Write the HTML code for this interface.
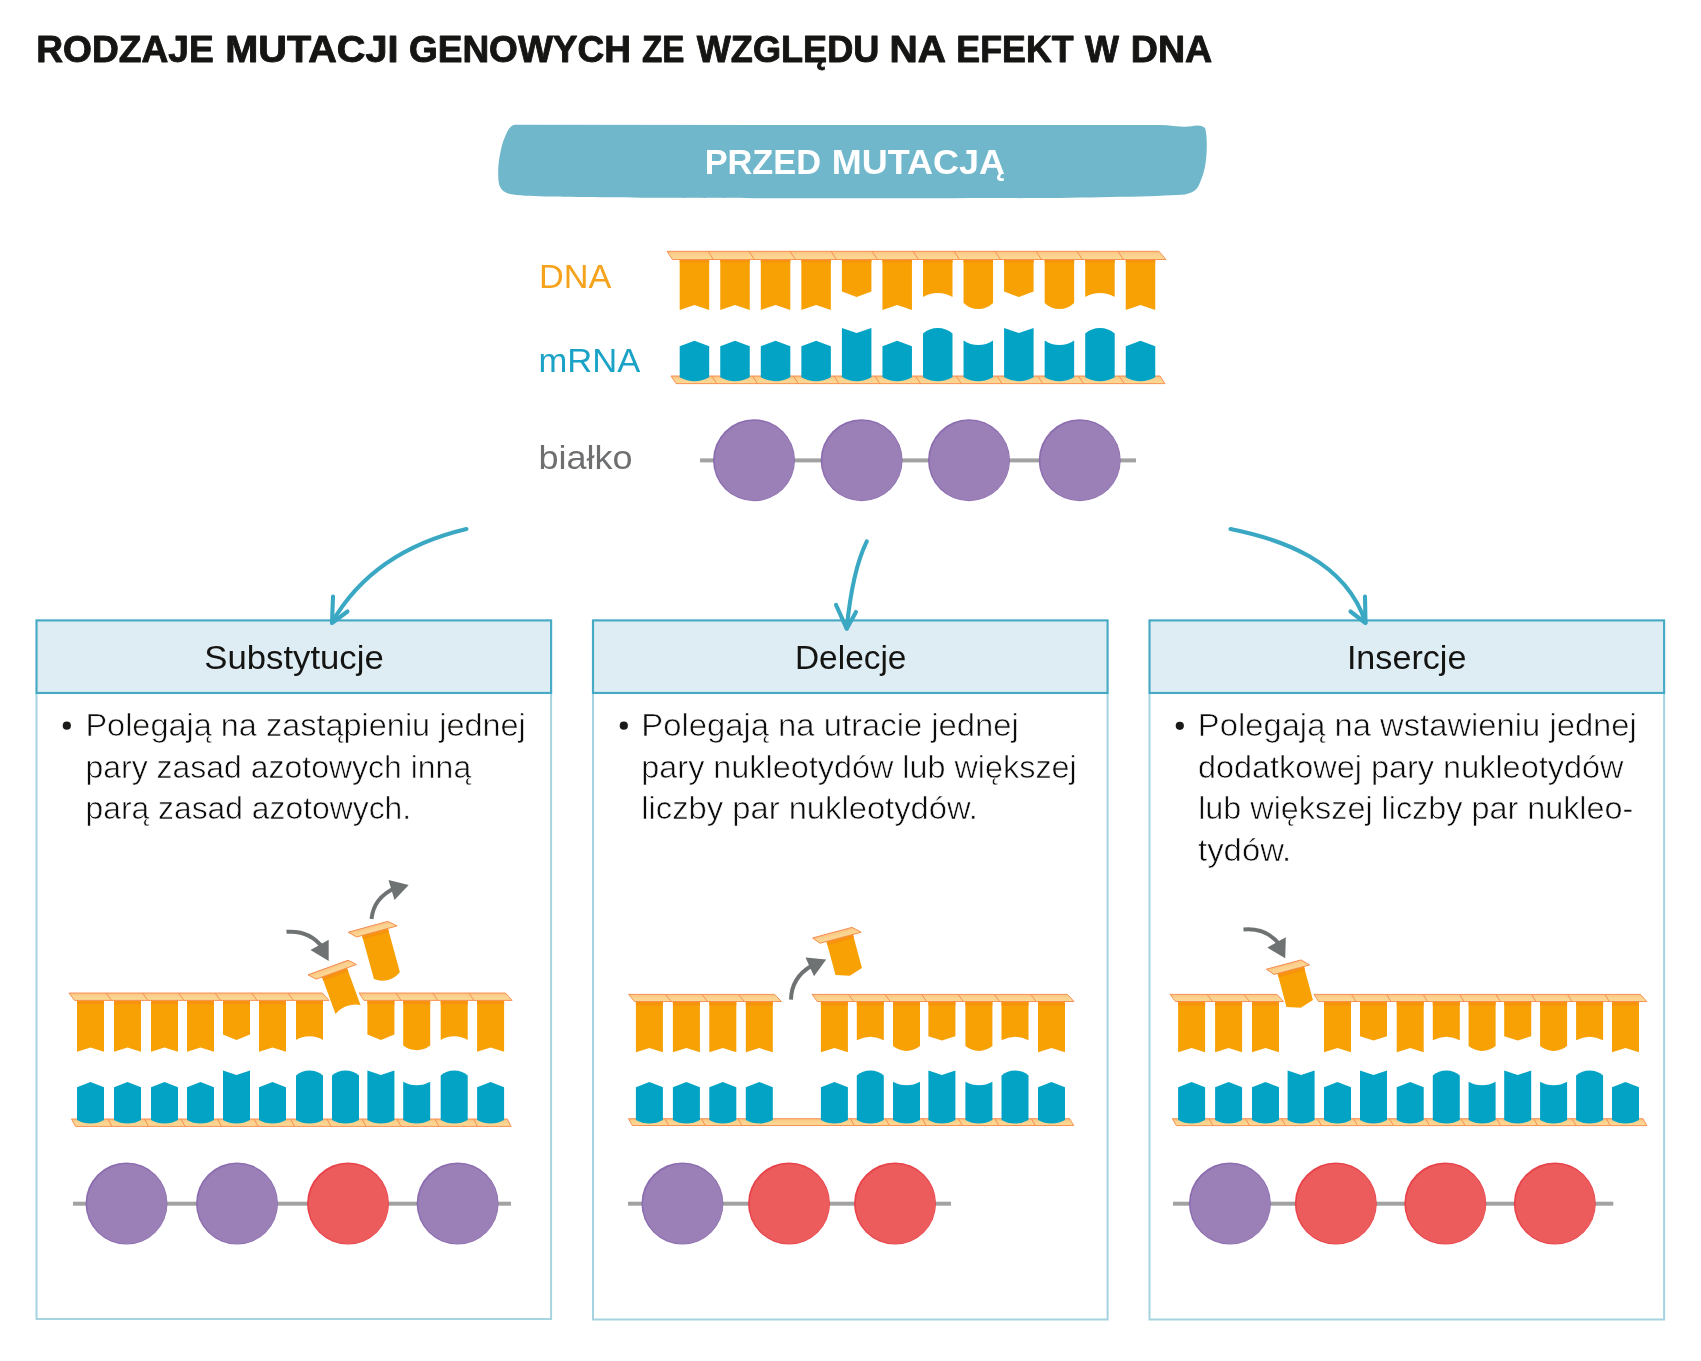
<!DOCTYPE html>
<html lang="pl">
<head>
<meta charset="utf-8">
<title>Rodzaje mutacji genowych</title>
<style>
html,body{margin:0;padding:0;background:#fff;}
body{width:1701px;height:1361px;position:relative;overflow:hidden;font-family:"Liberation Sans",sans-serif;}
svg{position:absolute;left:0;top:0;will-change:transform;-webkit-font-smoothing:antialiased;}
text{font-family:"Liberation Sans",sans-serif;white-space:pre;}
</style>
</head>
<body>


<svg width="1701" height="1361" viewBox="0 0 1701 1361">
<defs><linearGradient id="bg" x1="0" y1="0" x2="0" y2="1"><stop offset="0" stop-color="#FBC280"/><stop offset="0.45" stop-color="#FBD28F"/><stop offset="1" stop-color="#FBD994"/></linearGradient></defs>
<path d="M515,124.8L1160,125C1170,125 1178,126.8 1185,126.8C1190,126.8 1194,125.3 1198,125.5C1202,125.700 1205,127 1205.500,129.500C1207,137 1207.300,147 1206,160C1205,170 1202,178 1199,185C1197,189 1195,192 1185,194.500C1170,196 1100,197.500 1050,198C950,198.500 700,198.300 655,197.800C620,197.500 560,197 545,196.500C530,196 518,195.500 510,194C503,192.500 500,188 499,184C497.500,176 498,162 500.500,152C502,145 503,141 505,137C507,132 510,125 515,124.800Z" fill="#71B7CB"/>
<path d="M36.5,693V1319.100H551.1V693" fill="none" stroke="#A6D3E0" stroke-width="2"/><rect x="36.5" y="620.400" width="514.6" height="72.550" fill="#DEEDF3" stroke="#47AAC4" stroke-width="2.150"/><path d="M593.0,693V1319.500H1107.6V693" fill="none" stroke="#A6D3E0" stroke-width="2"/><rect x="593.0" y="620.400" width="514.6" height="72.550" fill="#DEEDF3" stroke="#47AAC4" stroke-width="2.150"/><path d="M1149.5,693V1319.500H1664.1V693" fill="none" stroke="#A6D3E0" stroke-width="2"/><rect x="1149.5" y="620.400" width="514.6" height="72.550" fill="#DEEDF3" stroke="#47AAC4" stroke-width="2.150"/>
<path d="M679.7,259.5H709.2V310L694.45,305L679.7,310Z" fill="#F8A105"/><rect x="679.7" y="259.5" width="29.5" height="3" fill="#F7930D"/>
<path d="M720.25,259.5H749.75V310L735,305L720.25,310Z" fill="#F8A105"/><rect x="720.25" y="259.5" width="29.5" height="3" fill="#F7930D"/>
<path d="M760.8,259.5H790.3V310L775.55,305L760.8,310Z" fill="#F8A105"/><rect x="760.8" y="259.5" width="29.5" height="3" fill="#F7930D"/>
<path d="M801.35,259.5H830.85V310L816.1,305L801.35,310Z" fill="#F8A105"/><rect x="801.35" y="259.5" width="29.5" height="3" fill="#F7930D"/>
<path d="M841.9,259.5H871.4V291.5L856.65,297L841.9,291.5Z" fill="#F8A105"/><rect x="841.9" y="259.5" width="29.5" height="3" fill="#F7930D"/>
<path d="M882.45,259.5H911.95V310L897.2,305L882.45,310Z" fill="#F8A105"/><rect x="882.45" y="259.5" width="29.5" height="3" fill="#F7930D"/>
<path d="M923,259.5H952.5V297A29.2,29.2 0 0 0 923,297Z" fill="#F8A105"/><rect x="923" y="259.5" width="29.5" height="3" fill="#F7930D"/>
<path d="M963.55,259.5H993.05V303A21.13,21.13 0 0 1 963.55,303Z" fill="#F8A105"/><rect x="963.55" y="259.5" width="29.5" height="3" fill="#F7930D"/>
<path d="M1004.1,259.5H1033.6V291.5L1018.85,297L1004.1,291.5Z" fill="#F8A105"/><rect x="1004.1" y="259.5" width="29.5" height="3" fill="#F7930D"/>
<path d="M1044.65,259.5H1074.15V303A21.13,21.13 0 0 1 1044.65,303Z" fill="#F8A105"/><rect x="1044.65" y="259.5" width="29.5" height="3" fill="#F7930D"/>
<path d="M1085.2,259.5H1114.7V297A29.2,29.2 0 0 0 1085.2,297Z" fill="#F8A105"/><rect x="1085.2" y="259.5" width="29.5" height="3" fill="#F7930D"/>
<path d="M1125.75,259.5H1155.25V310L1140.5,305L1125.75,310Z" fill="#F8A105"/><rect x="1125.75" y="259.5" width="29.5" height="3" fill="#F7930D"/>
<path d="M667,251.3H1159L1166,259.5H672.5Z" fill="url(#bg)" stroke="#F6894A" stroke-width="0.9" stroke-linejoin="round"/><path d="M708,251.3L713.5,259.5M749,251.3L754.5,259.5M790,251.3L795.5,259.5M831,251.3L836.5,259.5M872,251.3L877.5,259.5M913,251.3L918.5,259.5M954,251.3L959.5,259.5M995,251.3L1000.5,259.5M1036,251.3L1041.5,259.5M1077,251.3L1082.5,259.5M1118,251.3L1123.5,259.5" stroke="#F6894A" stroke-width="0.9" fill="none"/>
<path d="M671,376H1160L1165,383.6H676Z" fill="url(#bg)" stroke="#F6894A" stroke-width="0.9" stroke-linejoin="round"/><path d="M711.75,376L716.75,383.6M752.5,376L757.5,383.6M793.25,376L798.25,383.6M834,376L839,383.6M874.75,376L879.75,383.6M915.5,376L920.5,383.6M956.25,376L961.25,383.6M997,376L1002,383.6M1037.75,376L1042.75,383.6M1078.5,376L1083.5,383.6M1119.25,376L1124.25,383.6" stroke="#F6894A" stroke-width="0.9" fill="none"/>
<path d="M679.7,346.3L694.45,340.7L709.2,346.3V377.3A31.25,31.25 0 0 1 679.7,377.3Z" fill="#02A3C5"/>
<path d="M720.25,346.3L735,340.7L749.75,346.3V377.3A31.25,31.25 0 0 1 720.25,377.3Z" fill="#02A3C5"/>
<path d="M760.8,346.3L775.55,340.7L790.3,346.3V377.3A31.25,31.25 0 0 1 760.8,377.3Z" fill="#02A3C5"/>
<path d="M801.35,346.3L816.1,340.7L830.85,346.3V377.3A31.25,31.25 0 0 1 801.35,377.3Z" fill="#02A3C5"/>
<path d="M841.9,328L856.65,333L871.4,328V377.3A31.25,31.25 0 0 1 841.9,377.3Z" fill="#02A3C5"/>
<path d="M882.45,346.3L897.2,340.7L911.95,346.3V377.3A31.25,31.25 0 0 1 882.45,377.3Z" fill="#02A3C5"/>
<path d="M923,333.5A22.53,22.53 0 0 1 952.5,333.5V377.3A31.25,31.25 0 0 1 923,377.3Z" fill="#02A3C5"/>
<path d="M963.55,340.5A26.42,26.42 0 0 0 993.05,340.5V377.3A31.25,31.25 0 0 1 963.55,377.3Z" fill="#02A3C5"/>
<path d="M1004.1,328L1018.85,333L1033.6,328V377.3A31.25,31.25 0 0 1 1004.1,377.3Z" fill="#02A3C5"/>
<path d="M1044.65,340.5A26.42,26.42 0 0 0 1074.15,340.5V377.3A31.25,31.25 0 0 1 1044.65,377.3Z" fill="#02A3C5"/>
<path d="M1085.2,333.5A22.53,22.53 0 0 1 1114.7,333.5V377.3A31.25,31.25 0 0 1 1085.2,377.3Z" fill="#02A3C5"/>
<path d="M1125.75,346.3L1140.5,340.7L1155.25,346.3V377.3A31.25,31.25 0 0 1 1125.75,377.3Z" fill="#02A3C5"/>
<rect x="700" y="458.4" width="436" height="4" fill="#A2A2A2"/><circle cx="754" cy="460.2" r="41" fill="#8C6DB0"/><circle cx="754.6" cy="460.7" r="39.9" fill="#9B80B7"/><circle cx="861.6" cy="460.2" r="41" fill="#8C6DB0"/><circle cx="862.2" cy="460.7" r="39.9" fill="#9B80B7"/><circle cx="969" cy="460.2" r="41" fill="#8C6DB0"/><circle cx="969.6" cy="460.7" r="39.9" fill="#9B80B7"/><circle cx="1079.7" cy="460.2" r="41" fill="#8C6DB0"/><circle cx="1080.3" cy="460.7" r="39.9" fill="#9B80B7"/>
<path d="M77,1000.4H104V1051.7L90.5,1047.4L77,1051.7Z" fill="#F8A105"/><rect x="77" y="1000.4" width="27" height="4" fill="#F7930D"/>
<path d="M114,1000.4H141V1051.7L127.5,1047.4L114,1051.7Z" fill="#F8A105"/><rect x="114" y="1000.4" width="27" height="4" fill="#F7930D"/>
<path d="M151,1000.4H178V1051.7L164.5,1047.4L151,1051.7Z" fill="#F8A105"/><rect x="151" y="1000.4" width="27" height="4" fill="#F7930D"/>
<path d="M187,1000.4H214V1051.7L200.5,1047.4L187,1051.7Z" fill="#F8A105"/><rect x="187" y="1000.4" width="27" height="4" fill="#F7930D"/>
<path d="M223,1000.4H250V1034.6L236.5,1040L223,1034.6Z" fill="#F8A105"/><rect x="223" y="1000.4" width="27" height="4" fill="#F7930D"/>
<path d="M259,1000.4H286V1051.7L272.5,1047.4L259,1051.7Z" fill="#F8A105"/><rect x="259" y="1000.4" width="27" height="4" fill="#F7930D"/>
<path d="M296,1000.4H323V1039.9A26.48,26.48 0 0 0 296,1039.9Z" fill="#F8A105"/><rect x="296" y="1000.4" width="27" height="4" fill="#F7930D"/>
<path d="M367.4,1000.4H394.4V1034.6L380.9,1040L367.4,1034.6Z" fill="#F8A105"/><rect x="367.4" y="1000.4" width="27" height="4" fill="#F7930D"/>
<path d="M403.2,1000.4H430.2V1045.6A22.11,22.11 0 0 1 403.2,1045.6Z" fill="#F8A105"/><rect x="403.2" y="1000.4" width="27" height="4" fill="#F7930D"/>
<path d="M440.7,1000.4H467.7V1039.9A26.48,26.48 0 0 0 440.7,1039.9Z" fill="#F8A105"/><rect x="440.7" y="1000.4" width="27" height="4" fill="#F7930D"/>
<path d="M477.1,1000.4H504.1V1051.7L490.6,1047.4L477.1,1051.7Z" fill="#F8A105"/><rect x="477.1" y="1000.4" width="27" height="4" fill="#F7930D"/>
<path d="M69,993H322.5L329,1000.4H74.5Z" fill="url(#bg)" stroke="#F6894A" stroke-width="0.9" stroke-linejoin="round"/><path d="M106,993L111.5,1000.4M142.5,993L148,1000.4M178.5,993L184,1000.4M215,993L220.5,1000.4M251.5,993L257,1000.4M288,993L293.5,1000.4" stroke="#F6894A" stroke-width="0.9" fill="none"/>
<path d="M359,993H505.5L512.1,1000.4H364Z" fill="url(#bg)" stroke="#F6894A" stroke-width="0.9" stroke-linejoin="round"/><path d="M396,993L401,1000.4M432.7,993L437.7,1000.4M468.9,993L473.9,1000.4" stroke="#F6894A" stroke-width="0.9" fill="none"/>
<path d="M71.5,1119H507.3L511.1,1126.4H75.5Z" fill="url(#bg)" stroke="#F6894A" stroke-width="0.9" stroke-linejoin="round"/><path d="M108,1119L112,1126.4M144.5,1119L148.5,1126.4M181,1119L185,1126.4M217.5,1119L221.5,1126.4M254,1119L258,1126.4M290.5,1119L294.5,1126.4M327,1119L331,1126.4M362,1119L366,1126.4M397,1119L401,1126.4M434.9,1119L438.9,1126.4M473.5,1119L477.5,1126.4" stroke="#F6894A" stroke-width="0.9" fill="none"/>
<path d="M77,1087.3L90.5,1081.9L104,1087.3V1120A27.11,27.11 0 0 1 77,1120Z" fill="#02A3C5"/>
<path d="M114,1087.3L127.5,1081.9L141,1087.3V1120A27.11,27.11 0 0 1 114,1120Z" fill="#02A3C5"/>
<path d="M151,1087.3L164.5,1081.9L178,1087.3V1120A27.11,27.11 0 0 1 151,1120Z" fill="#02A3C5"/>
<path d="M187,1087.3L200.5,1081.9L214,1087.3V1120A27.11,27.11 0 0 1 187,1120Z" fill="#02A3C5"/>
<path d="M223,1070.6L236.5,1075L250,1070.6V1120A27.11,27.11 0 0 1 223,1120Z" fill="#02A3C5"/>
<path d="M259,1087.3L272.5,1081.9L286,1087.3V1120A27.11,27.11 0 0 1 259,1120Z" fill="#02A3C5"/>
<path d="M296,1075.4A21.05,21.05 0 0 1 323,1075.4V1120A27.11,27.11 0 0 1 296,1120Z" fill="#02A3C5"/>
<path d="M332,1075.4A21.05,21.05 0 0 1 359,1075.4V1120A27.11,27.11 0 0 1 332,1120Z" fill="#02A3C5"/>
<path d="M367.4,1070.6L380.9,1075L394.4,1070.6V1120A27.11,27.11 0 0 1 367.4,1120Z" fill="#02A3C5"/>
<path d="M403.2,1081.7A27.11,27.11 0 0 0 430.2,1081.7V1120A27.11,27.11 0 0 1 403.2,1120Z" fill="#02A3C5"/>
<path d="M440.7,1075.4A21.05,21.05 0 0 1 467.7,1075.4V1120A27.11,27.11 0 0 1 440.7,1120Z" fill="#02A3C5"/>
<path d="M477.1,1087.3L490.6,1081.9L504.1,1087.3V1120A27.11,27.11 0 0 1 477.1,1120Z" fill="#02A3C5"/>
<g transform="translate(322,977) rotate(-20)"><path d="M0,0H26.6V39.5A25.75,25.75 0 0 0 0,39.5Z" fill="#F8A105"/><rect x="0" y="0" width="26.6" height="4" fill="#F7930D"/><path d="M-12.4,-6.8H30.2L36.6,0H-6.2Z" fill="url(#bg)" stroke="#F6894A" stroke-width="0.9" stroke-linejoin="round"/></g>
<g transform="translate(362,935.5) rotate(-15.3)"><path d="M0,0H26.9V45.2A21.96,21.96 0 0 1 0,45.2Z" fill="#F8A105"/><rect x="0" y="0" width="26.9" height="4" fill="#F7930D"/><path d="M-12.4,-6.8H28.6L36.4,0H-5.6Z" fill="url(#bg)" stroke="#F6894A" stroke-width="0.9" stroke-linejoin="round"/></g>
<rect x="73" y="1201.7" width="438" height="4" fill="#A2A2A2"/><circle cx="126.5" cy="1203.5" r="41" fill="#8C6DB0"/><circle cx="127.1" cy="1204" r="39.9" fill="#9B80B7"/><circle cx="237" cy="1203.5" r="41" fill="#8C6DB0"/><circle cx="237.6" cy="1204" r="39.9" fill="#9B80B7"/><circle cx="348" cy="1203.5" r="41" fill="#E8434B"/><circle cx="348.6" cy="1204" r="39.9" fill="#EC5C5C"/><circle cx="457.6" cy="1203.5" r="41" fill="#8C6DB0"/><circle cx="458.2" cy="1204" r="39.9" fill="#9B80B7"/>
<path d="M635.9,1001.5H662.9V1052.3L649.4,1048.1L635.9,1052.3Z" fill="#F8A105"/><rect x="635.9" y="1001.5" width="27" height="4" fill="#F7930D"/>
<path d="M672.9,1001.5H699.9V1052.3L686.4,1048.1L672.9,1052.3Z" fill="#F8A105"/><rect x="672.9" y="1001.5" width="27" height="4" fill="#F7930D"/>
<path d="M709.3,1001.5H736.3V1052.3L722.8,1048.1L709.3,1052.3Z" fill="#F8A105"/><rect x="709.3" y="1001.5" width="27" height="4" fill="#F7930D"/>
<path d="M745.8,1001.5H772.8V1052.3L759.3,1048.1L745.8,1052.3Z" fill="#F8A105"/><rect x="745.8" y="1001.5" width="27" height="4" fill="#F7930D"/>
<path d="M820.9,1001.5H847.9V1052.3L834.4,1048.1L820.9,1052.3Z" fill="#F8A105"/><rect x="820.9" y="1001.5" width="27" height="4" fill="#F7930D"/>
<path d="M856.8,1001.5H883.8V1040.3A29.26,29.26 0 0 0 856.8,1040.3Z" fill="#F8A105"/><rect x="856.8" y="1001.5" width="27" height="4" fill="#F7930D"/>
<path d="M893,1001.5H920V1046.1A21.38,21.38 0 0 1 893,1046.1Z" fill="#F8A105"/><rect x="893" y="1001.5" width="27" height="4" fill="#F7930D"/>
<path d="M928.4,1001.5H955.4V1036.2L941.9,1040.6L928.4,1036.2Z" fill="#F8A105"/><rect x="928.4" y="1001.5" width="27" height="4" fill="#F7930D"/>
<path d="M965.4,1001.5H992.4V1046.1A21.38,21.38 0 0 1 965.4,1046.1Z" fill="#F8A105"/><rect x="965.4" y="1001.5" width="27" height="4" fill="#F7930D"/>
<path d="M1001.5,1001.5H1028.5V1040.3A29.26,29.26 0 0 0 1001.5,1040.3Z" fill="#F8A105"/><rect x="1001.5" y="1001.5" width="27" height="4" fill="#F7930D"/>
<path d="M1038,1001.5H1065V1052.3L1051.5,1048.1L1038,1052.3Z" fill="#F8A105"/><rect x="1038" y="1001.5" width="27" height="4" fill="#F7930D"/>
<path d="M628.5,994.4H774.6L781.4,1001.5H634.5Z" fill="url(#bg)" stroke="#F6894A" stroke-width="0.9" stroke-linejoin="round"/><path d="M665.3,994.4L671.3,1001.5M701.8,994.4L707.8,1001.5M738.3,994.4L744.3,1001.5" stroke="#F6894A" stroke-width="0.9" fill="none"/>
<path d="M812,994.4H1067.4L1074,1001.5H817.3Z" fill="url(#bg)" stroke="#F6894A" stroke-width="0.9" stroke-linejoin="round"/><path d="M848.5,994.4L853.8,1001.5M885,994.4L890.3,1001.5M921.5,994.4L926.8,1001.5M958,994.4L963.3,1001.5M994.3,994.4L999.6,1001.5M1030.8,994.4L1036.1,1001.5" stroke="#F6894A" stroke-width="0.9" fill="none"/>
<path d="M628.5,1118.7H1069.7L1073.7,1125.5H632.3Z" fill="url(#bg)" stroke="#F6894A" stroke-width="0.9" stroke-linejoin="round"/><path d="M665,1118.7L668.8,1125.5M701.5,1118.7L705.3,1125.5M738,1118.7L741.8,1125.5M850.4,1118.7L854.2,1125.5M885.6,1118.7L889.4,1125.5M922.3,1118.7L926.1,1125.5M958.5,1118.7L962.3,1125.5M995,1118.7L998.8,1125.5M1031.5,1118.7L1035.3,1125.5" stroke="#F6894A" stroke-width="0.9" fill="none"/>
<path d="M635.9,1087.3L649.4,1081.9L662.9,1087.3V1120A27.11,27.11 0 0 1 635.9,1120Z" fill="#02A3C5"/>
<path d="M672.9,1087.3L686.4,1081.9L699.9,1087.3V1120A27.11,27.11 0 0 1 672.9,1120Z" fill="#02A3C5"/>
<path d="M709.3,1087.3L722.8,1081.9L736.3,1087.3V1120A27.11,27.11 0 0 1 709.3,1120Z" fill="#02A3C5"/>
<path d="M745.8,1087.3L759.3,1081.9L772.8,1087.3V1120A27.11,27.11 0 0 1 745.8,1120Z" fill="#02A3C5"/>
<path d="M820.9,1087.3L834.4,1081.9L847.9,1087.3V1120A27.11,27.11 0 0 1 820.9,1120Z" fill="#02A3C5"/>
<path d="M856.8,1075.4A21.05,21.05 0 0 1 883.8,1075.4V1120A27.11,27.11 0 0 1 856.8,1120Z" fill="#02A3C5"/>
<path d="M893,1081.7A27.11,27.11 0 0 0 920,1081.7V1120A27.11,27.11 0 0 1 893,1120Z" fill="#02A3C5"/>
<path d="M928.4,1070.6L941.9,1075L955.4,1070.6V1120A27.11,27.11 0 0 1 928.4,1120Z" fill="#02A3C5"/>
<path d="M965.4,1081.7A27.11,27.11 0 0 0 992.4,1081.7V1120A27.11,27.11 0 0 1 965.4,1120Z" fill="#02A3C5"/>
<path d="M1001.5,1075.4A21.05,21.05 0 0 1 1028.5,1075.4V1120A27.11,27.11 0 0 1 1001.5,1120Z" fill="#02A3C5"/>
<path d="M1038,1087.3L1051.5,1081.9L1065,1087.3V1120A27.11,27.11 0 0 1 1038,1120Z" fill="#02A3C5"/>
<g transform="translate(826.5,941.5) rotate(-15)"><path d="M0,0H27.4V34.7L13.7,39.1L0,34.7Z" fill="#F8A105"/><rect x="0" y="0" width="27.4" height="4" fill="#F7930D"/><path d="M-12.6,-7H28.4L35.9,0H-6.7Z" fill="url(#bg)" stroke="#F6894A" stroke-width="0.9" stroke-linejoin="round"/></g>
<rect x="628" y="1201.7" width="323" height="4" fill="#A2A2A2"/><circle cx="682.4" cy="1203.5" r="41" fill="#8C6DB0"/><circle cx="683" cy="1204" r="39.9" fill="#9B80B7"/><circle cx="789" cy="1203.5" r="41" fill="#E8434B"/><circle cx="789.6" cy="1204" r="39.9" fill="#EC5C5C"/><circle cx="895" cy="1203.5" r="41" fill="#E8434B"/><circle cx="895.6" cy="1204" r="39.9" fill="#EC5C5C"/>
<path d="M1178.1,1001.5H1205.1V1052.3L1191.6,1048.1L1178.1,1052.3Z" fill="#F8A105"/><rect x="1178.1" y="1001.5" width="27" height="4" fill="#F7930D"/>
<path d="M1215.1,1001.5H1242.1V1052.3L1228.6,1048.1L1215.1,1052.3Z" fill="#F8A105"/><rect x="1215.1" y="1001.5" width="27" height="4" fill="#F7930D"/>
<path d="M1252,1001.5H1279V1052.3L1265.5,1048.1L1252,1052.3Z" fill="#F8A105"/><rect x="1252" y="1001.5" width="27" height="4" fill="#F7930D"/>
<path d="M1324,1001.5H1351V1052.3L1337.5,1048.1L1324,1052.3Z" fill="#F8A105"/><rect x="1324" y="1001.5" width="27" height="4" fill="#F7930D"/>
<path d="M1360,1001.5H1387V1036.2L1373.5,1040.6L1360,1036.2Z" fill="#F8A105"/><rect x="1360" y="1001.5" width="27" height="4" fill="#F7930D"/>
<path d="M1396.7,1001.5H1423.7V1052.3L1410.2,1048.1L1396.7,1052.3Z" fill="#F8A105"/><rect x="1396.7" y="1001.5" width="27" height="4" fill="#F7930D"/>
<path d="M1432.8,1001.5H1459.8V1040.3A29.26,29.26 0 0 0 1432.8,1040.3Z" fill="#F8A105"/><rect x="1432.8" y="1001.5" width="27" height="4" fill="#F7930D"/>
<path d="M1468.6,1001.5H1495.6V1046.1A21.38,21.38 0 0 1 1468.6,1046.1Z" fill="#F8A105"/><rect x="1468.6" y="1001.5" width="27" height="4" fill="#F7930D"/>
<path d="M1504.2,1001.5H1531.2V1036.2L1517.7,1040.6L1504.2,1036.2Z" fill="#F8A105"/><rect x="1504.2" y="1001.5" width="27" height="4" fill="#F7930D"/>
<path d="M1540.1,1001.5H1567.1V1046.1A21.38,21.38 0 0 1 1540.1,1046.1Z" fill="#F8A105"/><rect x="1540.1" y="1001.5" width="27" height="4" fill="#F7930D"/>
<path d="M1576.1,1001.5H1603.1V1040.3A29.26,29.26 0 0 0 1576.1,1040.3Z" fill="#F8A105"/><rect x="1576.1" y="1001.5" width="27" height="4" fill="#F7930D"/>
<path d="M1612,1001.5H1639V1052.3L1625.5,1048.1L1612,1052.3Z" fill="#F8A105"/><rect x="1612" y="1001.5" width="27" height="4" fill="#F7930D"/>
<path d="M1170,994.4H1277L1283.5,1001.5H1175.5Z" fill="url(#bg)" stroke="#F6894A" stroke-width="0.9" stroke-linejoin="round"/><path d="M1207,994.4L1212.5,1001.5M1244,994.4L1249.5,1001.5" stroke="#F6894A" stroke-width="0.9" fill="none"/>
<path d="M1314,994.4H1640.4L1646.8,1001.5H1318.5Z" fill="url(#bg)" stroke="#F6894A" stroke-width="0.9" stroke-linejoin="round"/><path d="M1351.5,994.4L1356,1001.5M1386.5,994.4L1391,1001.5M1423,994.4L1427.5,1001.5M1459.5,994.4L1464,1001.5M1495.9,994.4L1500.4,1001.5M1531.5,994.4L1536,1001.5M1567.5,994.4L1572,1001.5M1604.8,994.4L1609.3,1001.5" stroke="#F6894A" stroke-width="0.9" fill="none"/>
<path d="M1172.3,1118.7H1643L1646.8,1125.6H1176.3Z" fill="url(#bg)" stroke="#F6894A" stroke-width="0.9" stroke-linejoin="round"/><path d="M1209,1118.7L1213,1125.6M1245.5,1118.7L1249.5,1125.6M1281.5,1118.7L1285.5,1125.6M1317.5,1118.7L1321.5,1125.6M1353.5,1118.7L1357.5,1125.6M1389.5,1118.7L1393.5,1125.6M1425.5,1118.7L1429.5,1125.6M1461,1118.7L1465,1125.6M1496.6,1118.7L1500.6,1125.6M1533.7,1118.7L1537.7,1125.6M1572,1118.7L1576,1125.6M1606.3,1118.7L1610.3,1125.6" stroke="#F6894A" stroke-width="0.9" fill="none"/>
<path d="M1178.1,1087.3L1191.6,1081.9L1205.1,1087.3V1120A27.11,27.11 0 0 1 1178.1,1120Z" fill="#02A3C5"/>
<path d="M1215.1,1087.3L1228.6,1081.9L1242.1,1087.3V1120A27.11,27.11 0 0 1 1215.1,1120Z" fill="#02A3C5"/>
<path d="M1252,1087.3L1265.5,1081.9L1279,1087.3V1120A27.11,27.11 0 0 1 1252,1120Z" fill="#02A3C5"/>
<path d="M1287.6,1070.6L1301.1,1075L1314.6,1070.6V1120A27.11,27.11 0 0 1 1287.6,1120Z" fill="#02A3C5"/>
<path d="M1324,1087.3L1337.5,1081.9L1351,1087.3V1120A27.11,27.11 0 0 1 1324,1120Z" fill="#02A3C5"/>
<path d="M1360,1070.6L1373.5,1075L1387,1070.6V1120A27.11,27.11 0 0 1 1360,1120Z" fill="#02A3C5"/>
<path d="M1396.7,1087.3L1410.2,1081.9L1423.7,1087.3V1120A27.11,27.11 0 0 1 1396.7,1120Z" fill="#02A3C5"/>
<path d="M1432.8,1075.4A21.05,21.05 0 0 1 1459.8,1075.4V1120A27.11,27.11 0 0 1 1432.8,1120Z" fill="#02A3C5"/>
<path d="M1468.6,1081.7A27.11,27.11 0 0 0 1495.6,1081.7V1120A27.11,27.11 0 0 1 1468.6,1120Z" fill="#02A3C5"/>
<path d="M1504.2,1070.6L1517.7,1075L1531.2,1070.6V1120A27.11,27.11 0 0 1 1504.2,1120Z" fill="#02A3C5"/>
<path d="M1540.1,1081.7A27.11,27.11 0 0 0 1567.1,1081.7V1120A27.11,27.11 0 0 1 1540.1,1120Z" fill="#02A3C5"/>
<path d="M1576.1,1075.4A21.05,21.05 0 0 1 1603.1,1075.4V1120A27.11,27.11 0 0 1 1576.1,1120Z" fill="#02A3C5"/>
<path d="M1612,1087.3L1625.5,1081.9L1639,1087.3V1120A27.11,27.11 0 0 1 1612,1120Z" fill="#02A3C5"/>
<g transform="translate(1277.5,973.5) rotate(-15)"><path d="M0,0H27.4V34.7L13.7,39.1L0,34.7Z" fill="#F8A105"/><rect x="0" y="0" width="27.4" height="4" fill="#F7930D"/><path d="M-9.6,-7H26.3L33.2,0H-3.6Z" fill="url(#bg)" stroke="#F6894A" stroke-width="0.9" stroke-linejoin="round"/></g>
<rect x="1173" y="1201.7" width="440.3" height="4" fill="#A2A2A2"/><circle cx="1229.9" cy="1203.5" r="41" fill="#8C6DB0"/><circle cx="1230.5" cy="1204" r="39.9" fill="#9B80B7"/><circle cx="1335.8" cy="1203.5" r="41" fill="#E8434B"/><circle cx="1336.4" cy="1204" r="39.9" fill="#EC5C5C"/><circle cx="1445.3" cy="1203.5" r="41" fill="#E8434B"/><circle cx="1445.9" cy="1204" r="39.9" fill="#EC5C5C"/><circle cx="1554.8" cy="1203.5" r="41" fill="#E8434B"/><circle cx="1555.4" cy="1204" r="39.9" fill="#EC5C5C"/>
<path d="M286.5,931.8C303,930.5 315,937 323,948" fill="none" stroke="#6E7272" stroke-width="4"/><path d="M328.7,939.8L310.5,950L328.7,961Z" fill="#6E7272"/>
<path d="M371.5,919C373,904 382,894 395,888" fill="none" stroke="#6E7272" stroke-width="4"/><path d="M388.5,880L408.7,885L394.5,900Z" fill="#6E7272"/>
<path d="M791,999.6C791.3,985 799,973 812,965.5" fill="none" stroke="#6E7272" stroke-width="4"/><path d="M805.5,957.4L826.2,959.4L814,976.2Z" fill="#6E7272"/>
<path d="M1243.5,929.5C1259,928.2 1271,933.5 1279.5,944.5" fill="none" stroke="#6E7272" stroke-width="4"/><path d="M1285.8,937.3L1267.3,947.6L1285.2,958.2Z" fill="#6E7272"/>
<path d="M466.5,529C420,540 365,565 332,622.5" fill="none" stroke="#3AA8C3" stroke-width="4.1" stroke-linecap="round" stroke-linejoin="round"/>
<path d="M333,596.5L332,623L347.5,611.5" fill="none" stroke="#3AA8C3" stroke-width="4.1" stroke-linecap="round" stroke-linejoin="round"/>
<path d="M866.8,541.3C855,565 850,595 846.7,628.5" fill="none" stroke="#3AA8C3" stroke-width="4.1" stroke-linecap="round" stroke-linejoin="round"/>
<path d="M836,604.8L846.7,628.7L856,612" fill="none" stroke="#3AA8C3" stroke-width="4.1" stroke-linecap="round" stroke-linejoin="round"/>
<path d="M1230.5,529C1280,539 1345,560 1365.5,622.5" fill="none" stroke="#3AA8C3" stroke-width="4.1" stroke-linecap="round" stroke-linejoin="round"/>
<path d="M1365,596.5L1365.5,623L1350.5,611.5" fill="none" stroke="#3AA8C3" stroke-width="4.1" stroke-linecap="round" stroke-linejoin="round"/>
<g font-family="Liberation Sans, sans-serif" opacity="0.999">
<text x="36.19" y="61.7" font-size="37" font-weight="bold" stroke="#151513" stroke-width="0.9" stroke-linejoin="round" fill="#151513" textLength="177.49" lengthAdjust="spacingAndGlyphs">RODZAJE</text>
<text x="225.36" y="61.7" font-size="37" font-weight="bold" stroke="#151513" stroke-width="0.9" stroke-linejoin="round" fill="#151513" textLength="173.18" lengthAdjust="spacingAndGlyphs">MUTACJI</text>
<text x="408.90" y="61.7" font-size="37" font-weight="bold" stroke="#151513" stroke-width="0.9" stroke-linejoin="round" fill="#151513" textLength="222.12" lengthAdjust="spacingAndGlyphs">GENOWYCH</text>
<text x="642.00" y="61.7" font-size="37" font-weight="bold" stroke="#151513" stroke-width="0.9" stroke-linejoin="round" fill="#151513" textLength="42.41" lengthAdjust="spacingAndGlyphs">ZE</text>
<text x="696.80" y="61.7" font-size="37" font-weight="bold" stroke="#151513" stroke-width="0.9" stroke-linejoin="round" fill="#151513" textLength="182.48" lengthAdjust="spacingAndGlyphs">WZGLĘDU</text>
<text x="889.59" y="61.7" font-size="37" font-weight="bold" stroke="#151513" stroke-width="0.9" stroke-linejoin="round" fill="#151513" textLength="56.47" lengthAdjust="spacingAndGlyphs">NA</text>
<text x="956.37" y="61.7" font-size="37" font-weight="bold" stroke="#151513" stroke-width="0.9" stroke-linejoin="round" fill="#151513" textLength="117.25" lengthAdjust="spacingAndGlyphs">EFEKT</text>
<text x="1085.00" y="61.7" font-size="37" font-weight="bold" stroke="#151513" stroke-width="0.9" stroke-linejoin="round" fill="#151513" textLength="34.02" lengthAdjust="spacingAndGlyphs">W</text>
<text x="1130.77" y="61.7" font-size="37" font-weight="bold" stroke="#151513" stroke-width="0.9" stroke-linejoin="round" fill="#151513" textLength="81.46" lengthAdjust="spacingAndGlyphs">DNA</text>
<text x="704.63" y="174" font-size="34.8" font-weight="bold" fill="#ffffff" textLength="116.39" lengthAdjust="spacingAndGlyphs">PRZED</text>
<text x="831.83" y="174" font-size="34.8" font-weight="bold" fill="#ffffff" textLength="173.10" lengthAdjust="spacingAndGlyphs">MUTACJĄ</text>
<text x="538.98" y="287.8" font-size="34" fill="#F5A31C" textLength="72.39" lengthAdjust="spacingAndGlyphs">DNA</text>
<text x="538.47" y="371.7" font-size="34" fill="#1AA3C6" textLength="101.81" lengthAdjust="spacingAndGlyphs">mRNA</text>
<text x="538.52" y="468.7" font-size="33" fill="#6E6F71" textLength="94.16" lengthAdjust="spacingAndGlyphs">białko</text>
<text x="204.35" y="668.5" font-size="33" fill="#141412" textLength="179.37" lengthAdjust="spacingAndGlyphs">Substytucje</text>
<text x="794.97" y="668.5" font-size="33" fill="#141412" textLength="111.50" lengthAdjust="spacingAndGlyphs">Delecje</text>
<text x="1346.90" y="668.5" font-size="33" fill="#141412" textLength="119.50" lengthAdjust="spacingAndGlyphs">Insercje</text>
<text x="85.46" y="735.8" font-size="31" stroke="#ffffff" stroke-width="0.6" fill="#0c0c0b" textLength="440.37" lengthAdjust="spacingAndGlyphs">Polegają na zastąpieniu jednej</text>
<text x="85.49" y="777.6" font-size="31" stroke="#ffffff" stroke-width="0.6" fill="#0c0c0b" textLength="385.68" lengthAdjust="spacingAndGlyphs">pary zasad azotowych inną</text>
<text x="85.50" y="819.1" font-size="31" stroke="#ffffff" stroke-width="0.6" fill="#0c0c0b" textLength="325.64" lengthAdjust="spacingAndGlyphs">parą zasad azotowych.</text>
<text x="641.33" y="735.8" font-size="31" stroke="#ffffff" stroke-width="0.6" fill="#0c0c0b" textLength="377.51" lengthAdjust="spacingAndGlyphs">Polegają na utracie jednej</text>
<text x="641.36" y="777.6" font-size="31" stroke="#ffffff" stroke-width="0.6" fill="#0c0c0b" textLength="435.46" lengthAdjust="spacingAndGlyphs">pary nukleotydów lub większej</text>
<text x="641.34" y="819.1" font-size="31" stroke="#ffffff" stroke-width="0.6" fill="#0c0c0b" textLength="336.57" lengthAdjust="spacingAndGlyphs">liczby par nukleotydów.</text>
<text x="1197.84" y="735.8" font-size="31" stroke="#ffffff" stroke-width="0.6" fill="#0c0c0b" textLength="439.01" lengthAdjust="spacingAndGlyphs">Polegają na wstawieniu jednej</text>
<text x="1197.90" y="777.6" font-size="31" stroke="#ffffff" stroke-width="0.6" fill="#0c0c0b" textLength="425.51" lengthAdjust="spacingAndGlyphs">dodatkowej pary nukleotydów</text>
<text x="1198.16" y="819.1" font-size="31" stroke="#ffffff" stroke-width="0.6" fill="#0c0c0b" textLength="435.17" lengthAdjust="spacingAndGlyphs">lub większej liczby par nukleo-</text>
<text x="1198.05" y="860.7" font-size="31" stroke="#ffffff" stroke-width="0.6" fill="#0c0c0b" textLength="93.17" lengthAdjust="spacingAndGlyphs">tydów.</text>
</g>
<circle cx="66.8" cy="725.7" r="4.1" fill="#1a1a18"/><circle cx="623.8" cy="725.7" r="4.1" fill="#1a1a18"/><circle cx="1179.8" cy="725.8" r="4.1" fill="#1a1a18"/>
</svg>

</body>
</html>
